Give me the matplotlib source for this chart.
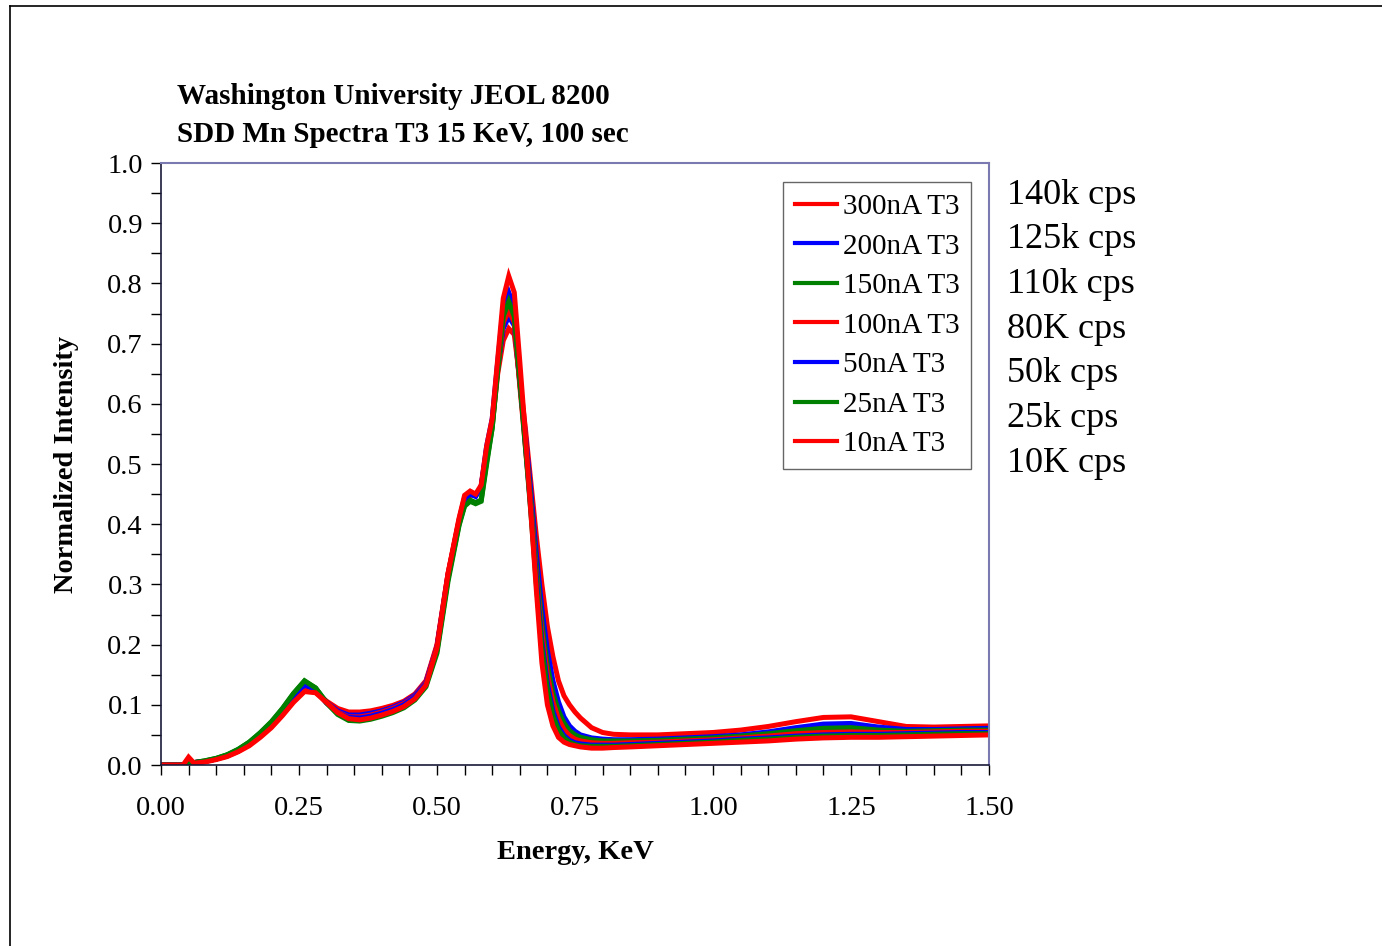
import matplotlib
matplotlib.use("Agg")
import matplotlib.pyplot as plt
from matplotlib.lines import Line2D
from matplotlib.ticker import MultipleLocator, FormatStrFormatter

plt.rcParams["font.family"] = ["Liberation Serif", "DejaVu Serif"]

# Energy channels (keV)
energy = [0.00, 0.02, 0.04, 0.05, 0.06, 0.08, 0.10, 0.12, 0.14, 0.16, 0.18, 0.20,
          0.22, 0.24, 0.26, 0.28, 0.30, 0.32, 0.34, 0.36, 0.38, 0.40, 0.42, 0.44,
          0.46, 0.48, 0.50, 0.52,
          0.54, 0.55, 0.56, 0.57, 0.58, 0.59, 0.60, 0.61, 0.62, 0.63, 0.64, 0.65,
          0.66, 0.67, 0.68, 0.69, 0.70, 0.71, 0.72, 0.73, 0.74, 0.75, 0.76,
          0.78, 0.80, 0.82, 0.85, 0.90, 0.95, 1.00, 1.05, 1.10, 1.15, 1.20, 1.25,
          1.30, 1.35, 1.40, 1.45, 1.50]

i_300nA = [0, 0, 0, 0.002, 0.004, 0.006, 0.010, 0.015, 0.023, 0.034, 0.048, 0.064,
           0.084, 0.106, 0.124, 0.121, 0.106, 0.094, 0.088, 0.088, 0.090, 0.094, 0.099, 0.106,
           0.118, 0.140, 0.200, 0.318,
           0.405, 0.440, 0.448, 0.448, 0.462, 0.520, 0.565, 0.650, 0.705, 0.725, 0.715, 0.640,
           0.560, 0.470, 0.380, 0.300, 0.230, 0.180, 0.140, 0.115, 0.100, 0.088, 0.078,
           0.062, 0.054, 0.051, 0.050, 0.050, 0.052, 0.054, 0.058, 0.064, 0.072, 0.079, 0.080,
           0.072, 0.064, 0.063, 0.064, 0.065]
i_200nA = [0, 0, 0, 0.002, 0.004, 0.006, 0.010, 0.016, 0.024, 0.035, 0.050, 0.066,
           0.087, 0.110, 0.130, 0.124, 0.104, 0.090, 0.083, 0.083, 0.086, 0.090, 0.096, 0.104,
           0.116, 0.138, 0.196, 0.315,
           0.405, 0.442, 0.450, 0.448, 0.462, 0.525, 0.570, 0.660, 0.725, 0.745, 0.730, 0.635,
           0.550, 0.455, 0.350, 0.260, 0.190, 0.140, 0.105, 0.080, 0.065, 0.056, 0.050,
           0.045, 0.043, 0.042, 0.042, 0.043, 0.045, 0.047, 0.050, 0.055, 0.062, 0.068, 0.069,
           0.063, 0.059, 0.059, 0.060, 0.061]
i_150nA = [0, 0, 0, 0.002, 0.004, 0.007, 0.011, 0.017, 0.026, 0.038, 0.053, 0.071,
           0.093, 0.118, 0.139, 0.128, 0.104, 0.086, 0.077, 0.076, 0.079, 0.084, 0.090, 0.098,
           0.111, 0.133, 0.190, 0.310,
           0.400, 0.432, 0.440, 0.436, 0.440, 0.505, 0.560, 0.655, 0.740, 0.765, 0.740, 0.635,
           0.540, 0.440, 0.330, 0.235, 0.165, 0.120, 0.090, 0.070, 0.057, 0.050, 0.046,
           0.042, 0.040, 0.040, 0.040, 0.041, 0.043, 0.045, 0.048, 0.052, 0.057, 0.061, 0.062,
           0.058, 0.056, 0.057, 0.058, 0.058]
i_100nA = [0, 0, 0, 0.002, 0.004, 0.006, 0.010, 0.015, 0.023, 0.034, 0.049, 0.065,
           0.085, 0.108, 0.127, 0.122, 0.103, 0.088, 0.080, 0.080, 0.083, 0.088, 0.094, 0.102,
           0.114, 0.137, 0.198, 0.318,
           0.408, 0.445, 0.452, 0.447, 0.460, 0.525, 0.570, 0.665, 0.735, 0.755, 0.735, 0.630,
           0.530, 0.430, 0.315, 0.220, 0.150, 0.105, 0.077, 0.059, 0.049, 0.043, 0.040,
           0.037, 0.036, 0.036, 0.037, 0.038, 0.040, 0.042, 0.045, 0.048, 0.052, 0.054, 0.055,
           0.054, 0.054, 0.055, 0.056, 0.056]
i_50nA = [0, 0, 0, 0.002, 0.004, 0.006, 0.010, 0.016, 0.025, 0.036, 0.051, 0.068,
          0.089, 0.113, 0.133, 0.125, 0.103, 0.087, 0.079, 0.078, 0.081, 0.086, 0.092, 0.100,
          0.113, 0.135, 0.195, 0.314,
          0.405, 0.443, 0.450, 0.446, 0.463, 0.530, 0.575, 0.670, 0.760, 0.785, 0.760, 0.645,
          0.535, 0.425, 0.310, 0.205, 0.135, 0.090, 0.063, 0.049, 0.041, 0.037, 0.035,
          0.033, 0.033, 0.033, 0.034, 0.036, 0.038, 0.040, 0.043, 0.045, 0.048, 0.050, 0.051,
          0.051, 0.052, 0.053, 0.054, 0.054]
i_25nA = [0, 0, 0, 0.002, 0.004, 0.007, 0.011, 0.017, 0.026, 0.038, 0.054, 0.072,
          0.094, 0.119, 0.140, 0.128, 0.103, 0.084, 0.074, 0.073, 0.076, 0.081, 0.087, 0.095,
          0.108, 0.130, 0.186, 0.305,
          0.398, 0.430, 0.438, 0.434, 0.438, 0.500, 0.560, 0.660, 0.745, 0.770, 0.745, 0.640,
          0.530, 0.420, 0.300, 0.195, 0.125, 0.082, 0.058, 0.045, 0.038, 0.034, 0.032,
          0.031, 0.031, 0.031, 0.032, 0.034, 0.036, 0.038, 0.041, 0.043, 0.046, 0.048, 0.049,
          0.049, 0.050, 0.051, 0.052, 0.052]
i_10nA = [0, 0, 0, 0.013, 0.003, 0.005, 0.009, 0.014, 0.022, 0.032, 0.046, 0.062,
          0.082, 0.104, 0.122, 0.120, 0.104, 0.087, 0.077, 0.075, 0.078, 0.083, 0.089, 0.097,
          0.110, 0.133, 0.195, 0.318,
          0.410, 0.448, 0.455, 0.450, 0.465, 0.530, 0.575, 0.675, 0.775, 0.812, 0.785, 0.670,
          0.550, 0.420, 0.290, 0.170, 0.100, 0.065, 0.046, 0.038, 0.034, 0.032, 0.030,
          0.028, 0.028, 0.029, 0.030, 0.032, 0.034, 0.036, 0.038, 0.040, 0.043, 0.045, 0.046,
          0.046, 0.047, 0.048, 0.049, 0.050]

series_labels = ["300nA T3", "200nA T3", "150nA T3", "100nA T3", "50nA T3", "25nA T3", "10nA T3"]
series_values = [i_300nA, i_200nA, i_150nA, i_100nA, i_50nA, i_25nA, i_10nA]
series_colors = ["#ff0000", "#0000ff", "#008000", "#ff0000", "#0000ff", "#008000", "#ff0000"]
count_rates = ["140k cps", "125k cps", "110k cps", "80K cps", "50k cps", "25k cps", "10K cps"]

W, H = 1382, 946
fig = plt.figure(figsize=(W / 100, H / 100), dpi=100)
fig.patch.set_facecolor("white")

ax = fig.add_axes([161 / W, 1 - 765 / H, (989 - 161) / W, (765 - 163) / H])

for vals, lab, col in zip(series_values, series_labels, series_colors):
    ax.plot(energy, vals, color=col, lw=3.6, label=lab, solid_joinstyle="miter")

ax.set_xlim(0, 1.5)
ax.set_ylim(0, 1.0)
ax.xaxis.set_major_locator(MultipleLocator(0.25))
ax.xaxis.set_minor_locator(MultipleLocator(0.05))
ax.yaxis.set_major_locator(MultipleLocator(0.1))
ax.yaxis.set_minor_locator(MultipleLocator(0.05))
ax.xaxis.set_major_formatter(FormatStrFormatter("%.2f"))
ax.yaxis.set_major_formatter(FormatStrFormatter("%.1f"))
ax.tick_params(which="both", direction="out", length=7, width=1.0, color="black")
ax.tick_params(axis="both", which="major", labelsize=20.5, pad=6)
ax.tick_params(axis="x", which="major", pad=15)

for side in ("left", "bottom"):
    ax.spines[side].set_color("#1a1a3a")
    ax.spines[side].set_linewidth(1.2)
for side in ("top", "right"):
    ax.spines[side].set_color("#7a7ab0")
    ax.spines[side].set_linewidth(1.5)

ax.set_xlabel("Energy, KeV", fontsize=20.5, fontweight="bold", labelpad=14)
ax.set_ylabel("Normalized Intensity", fontsize=20.5, fontweight="bold", labelpad=20)

leg = ax.legend(loc="upper left", bbox_to_anchor=((783 - 161) / (989 - 161), 1 - (182 - 163) / (765 - 163)),
                fontsize=21, frameon=True, fancybox=False, edgecolor="#404040",
                borderpad=0.4, labelspacing=0.45, handlelength=1.45, handletextpad=0.2,
                borderaxespad=0.0)
leg.get_frame().set_linewidth(1.0)
for h in leg.get_lines():
    h.set_linewidth(3.0)

fig.text(177 / W, 1 - 104 / H, "Washington University JEOL 8200", fontsize=21,
         fontweight="bold", ha="left", va="baseline")
fig.text(177 / W, 1 - 142 / H, "SDD Mn Spectra T3 15 KeV, 100 sec", fontsize=21,
         fontweight="bold", ha="left", va="baseline")

for k, txt in enumerate(count_rates):
    fig.text(1007 / W, 1 - (195 + 44.7 * k) / H, txt, fontsize=26, ha="left", va="center")

# outer chart frame (left and top edges)
fig.add_artist(Line2D([10 / W, 10 / W], [0, 1 - 6 / H], transform=fig.transFigure,
                      color="black", lw=1.2))
fig.add_artist(Line2D([10 / W, 1], [1 - 6 / H, 1 - 6 / H], transform=fig.transFigure,
                      color="black", lw=1.2))

fig.savefig("out.png", dpi=100)
